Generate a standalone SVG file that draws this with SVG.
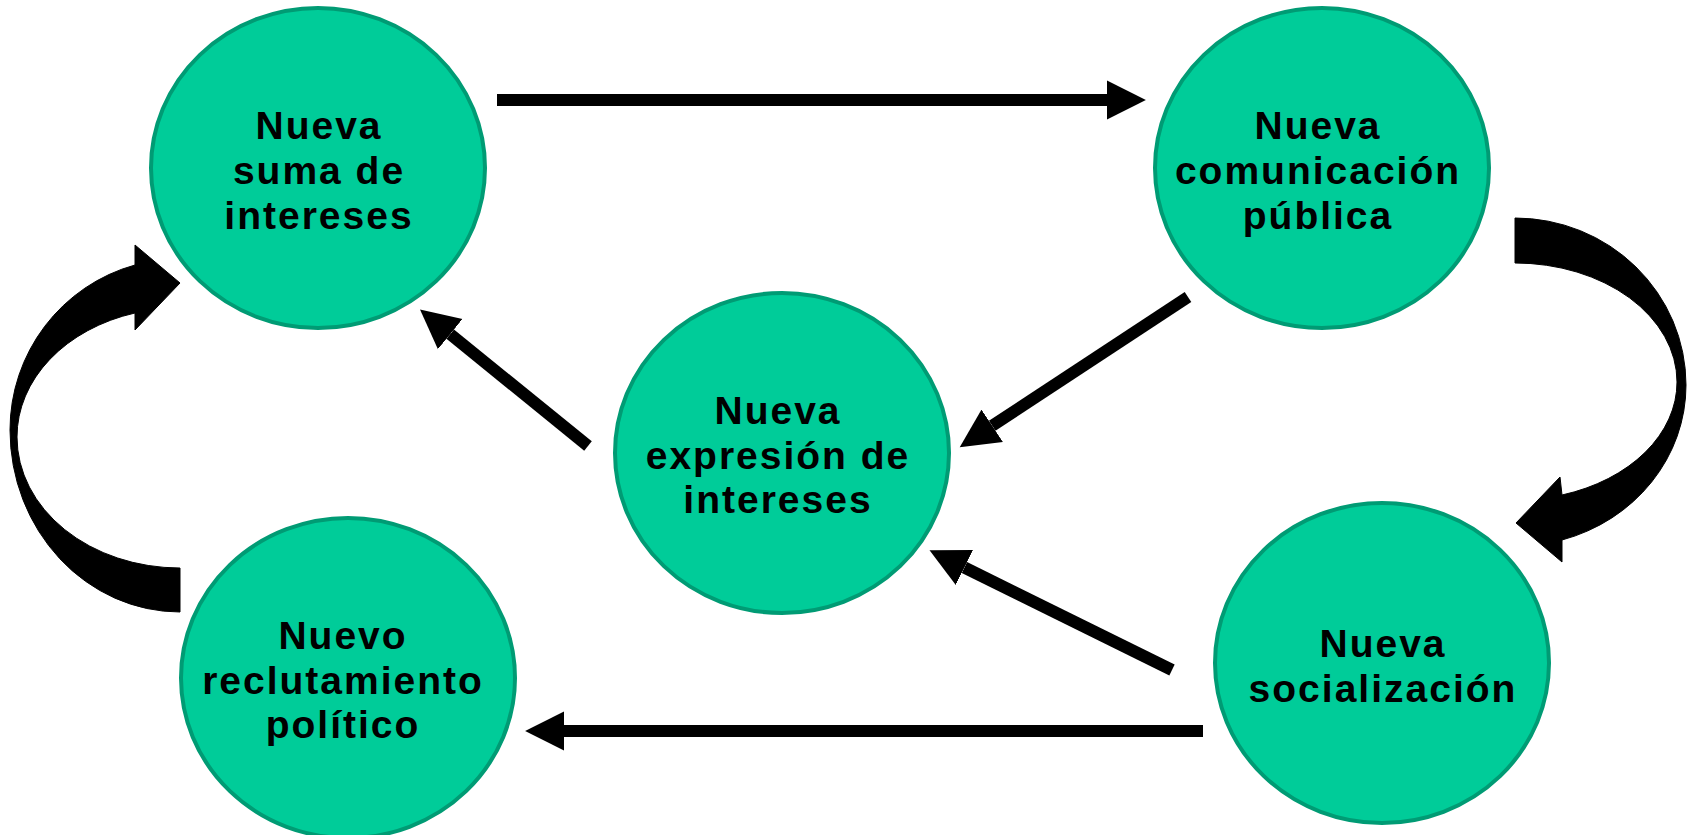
<svg xmlns="http://www.w3.org/2000/svg" width="1692" height="835" viewBox="0 0 1692 835">
<style>
.node{fill:#00CC99;stroke:#009B74;stroke-width:4}
.lbl{font-family:"Liberation Sans",Arial,sans-serif;font-weight:bold;font-size:39px;fill:#000;text-anchor:middle;letter-spacing:2px}
.conn{stroke:#000;stroke-width:12;fill:none}
.curve{fill:#000;stroke:#000;stroke-width:1;stroke-linejoin:round}
</style>
<defs>
<marker id="head" markerUnits="userSpaceOnUse" markerWidth="40" markerHeight="40" viewBox="0 -18 36 36" refX="0" refY="0" orient="auto">
<path d="M0,-17.5 L35,0 L0,17.5 Z" fill="#000"/>
</marker>
</defs>
<rect width="1692" height="835" fill="#fff"/>
<g id="connectors">
<line class="conn" x1="497" y1="100" x2="1107" y2="100" marker-end="url(#head)"/>
<line class="conn" x1="1203" y1="731" x2="564" y2="731" marker-end="url(#head)"/>
<line class="conn" x1="588" y1="446" x2="450.2" y2="334.1" marker-end="url(#head)"/>
<line class="conn" x1="1188" y1="297" x2="992.2" y2="425.8" marker-end="url(#head)"/>
<line class="conn" x1="1172" y1="670" x2="964.4" y2="567.5" marker-end="url(#head)"/>
<path class="curve" d="M180,612 A170,182 0 0 1 10,430 A170,171 0 0 1 135,265 L135,245 L180,283 L135,330 L135,313 A163,129 0 0 0 17,437 A163,131 0 0 0 180,568 Z"/>
<path class="curve" d="M1515,218 A171,167 0 0 1 1686,385 A171,161 0 0 1 1562,540 L1562,562 L1516,523 L1560,477 L1562,495 A162,118 0 0 0 1677,382 A162,119 0 0 0 1515,263 Z"/>
</g>
<g id="node-suma">
<ellipse class="node" cx="318" cy="168" rx="167" ry="160"/>
<text class="lbl" x="319" y="139">Nueva</text>
<text class="lbl" x="319" y="184">suma de</text>
<text class="lbl" x="319" y="229">intereses</text>
</g>
<g id="node-comunicacion">
<ellipse class="node" cx="1322" cy="168" rx="167" ry="160"/>
<text class="lbl" x="1318" y="139">Nueva</text>
<text class="lbl" x="1318" y="184">comunicación</text>
<text class="lbl" x="1318" y="229">pública</text>
</g>
<g id="node-expresion">
<ellipse class="node" cx="782" cy="453" rx="167" ry="160"/>
<text class="lbl" x="778" y="424">Nueva</text>
<text class="lbl" x="778" y="469">expresión de</text>
<text class="lbl" x="778" y="513">intereses</text>
</g>
<g id="node-reclutamiento">
<ellipse class="node" cx="348" cy="678" rx="167" ry="160"/>
<text class="lbl" x="343" y="649">Nuevo</text>
<text class="lbl" x="343" y="694">reclutamiento</text>
<text class="lbl" x="343" y="738">político</text>
</g>
<g id="node-socializacion">
<ellipse class="node" cx="1382" cy="663" rx="167" ry="160"/>
<text class="lbl" x="1383" y="657">Nueva</text>
<text class="lbl" x="1383" y="702">socialización</text>
</g>
</svg>
